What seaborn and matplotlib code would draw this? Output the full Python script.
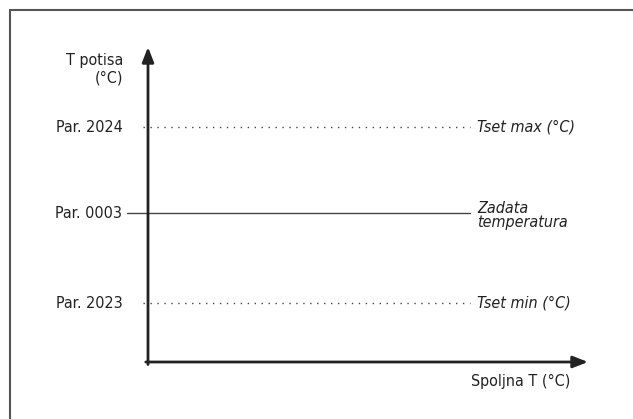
import matplotlib
matplotlib.use('Agg')
import matplotlib.pyplot as plt
import seaborn as sns
from matplotlib.lines import Line2D

# data: parameter levels on the supply temperature axis
levels = [1.87, 4.73, 7.46]
left_labels = ['Par. 2023', 'Par. 0003', 'Par. 2024']
right_labels = ['Tset min (°C)', 'Zadata\ntemperatura', 'Tset max (°C)']
line_styles = [(0, (1, 4)), '-', (0, (1, 4))]
line_start = [-0.11, -0.48, -0.11]
line_end = 7.32

sns.set_style('white')
plt.rcParams['font.family'] = ['DejaVu Sans']
plt.rcParams['font.stretch'] = 'condensed'
TXT = dict(fontsize=11.5, color='#222222', fontstretch='condensed')

fig = plt.figure(figsize=(6.33, 4.19), dpi=100)
ax = fig.add_axes([148 / 633, 57 / 419, 440 / 633, 315 / 419])
ax.set_xlim(0, 10)
ax.set_ylim(0, 10)
for s in ax.spines.values():
    s.set_visible(False)
ax.set_xticks([])
ax.set_yticks([])

# frame (top and left edges only)
fig.add_artist(Line2D([10 / 633, 1.0], [1 - 10.5 / 419] * 2, transform=fig.transFigure,
                      color='#555555', lw=1.5))
fig.add_artist(Line2D([10 / 633] * 2, [0, 1 - 10.5 / 419], transform=fig.transFigure,
                      color='#555555', lw=1.5))

# axes with arrows
arrow = dict(arrowstyle='-|>,head_length=0.9,head_width=0.35', lw=2, color='#222222',
             shrinkA=0, shrinkB=0)
ax.annotate('', xy=(0, 10), xytext=(0, -0.08), arrowprops=arrow, annotation_clip=False)
ax.annotate('', xy=(10, 0), xytext=(-0.05, 0), arrowprops=arrow, annotation_clip=False)

# horizontal level lines and labels
for y, ll, rl, ls, x0 in zip(levels, left_labels, right_labels, line_styles, line_start):
    ax.plot([x0, line_end], [y, y], ls=ls, color='#444444', lw=1.0, clip_on=False)
    ax.text(-0.58, y, ll, ha='right', va='center', **TXT)
    ax.text(7.48, y - (0.08 if '\n' in rl else 0), rl, ha='left', va='center',
            style='italic', linespacing=0.85, **TXT)

ax.text(-0.57, 9.3, 'T potisa\n(°C)', ha='right', va='center', linespacing=1.25, **TXT)
ax.text(9.59, -0.63, 'Spoljna T (°C)', ha='right', va='center', **TXT)

fig.savefig('out.png', dpi=100)
